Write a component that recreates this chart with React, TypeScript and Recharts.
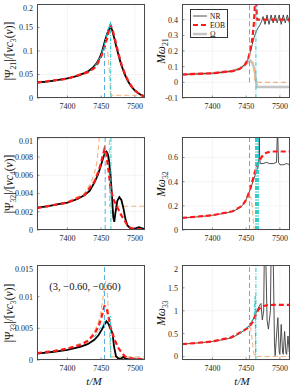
import React from 'react'
import { LineChart, Line, XAxis, YAxis, CartesianGrid, ReferenceLine } from 'recharts'

type Pt = [number, number]

// shared time axis
const T_DOMAIN: [number, number] = [7355, 7515]
const T_TICKS = [7400, 7450, 7500]
const T_BLUE = 7455
const T_CYAN = 7464.5

// (2,1) amplitude
const AMP21_NR: Pt[] = [[7355, 0.033], [7370, 0.035], [7385, 0.038], [7400, 0.042], [7415, 0.047], [7425, 0.053], [7432, 0.058], [7438, 0.065], [7443, 0.073], [7447, 0.083], [7451, 0.097], [7455, 0.118], [7458, 0.133], [7461, 0.145], [7464, 0.15], [7466, 0.146], [7469, 0.13], [7472, 0.112], [7476, 0.09], [7480, 0.07], [7485, 0.05], [7490, 0.035], [7495, 0.024], [7500, 0.016], [7505, 0.01], [7510, 0.006], [7515, 0.003]]
const AMP21_EOB: Pt[] = [[7355, 0.033], [7400, 0.041], [7430, 0.055], [7440, 0.064], [7445, 0.074], [7450, 0.088], [7455, 0.108], [7458, 0.123], [7461, 0.14], [7464, 0.155], [7467, 0.145], [7470, 0.128], [7473, 0.11], [7477, 0.088], [7481, 0.068], [7486, 0.049], [7491, 0.034], [7496, 0.023], [7501, 0.015], [7506, 0.009], [7511, 0.005], [7515, 0.003]]
const AMP21_FIT: Pt[] = [[7355, 0.033], [7400, 0.04], [7430, 0.053], [7440, 0.062], [7447, 0.075], [7451, 0.09], [7454, 0.102], [7456, 0.106], [7458, 0.104], [7460, 0.095], [7462, 0.06], [7464, 0.01], [7466, 0.006], [7515, 0.006]]
const AMP21_CYAN: Pt[] = [[7440, 0.066], [7450, 0.09], [7455, 0.115], [7460, 0.145], [7464, 0.162], [7464.3, 0.003], [7468, 0.003]]

// (2,1) frequency
const FREQ21_NR: Pt[] = [[7355, 0.05], [7380, 0.054], [7400, 0.058], [7420, 0.066], [7430, 0.073], [7438, 0.083], [7444, 0.097], [7449, 0.12], [7453, 0.15], [7456, 0.19], [7459, 0.24], [7462, 0.29], [7465, 0.325], [7468, 0.35], [7471, 0.37], [7473, 0.39], [7475, 0.42], [7478, 0.37], [7481, 0.43], [7484, 0.37], [7487, 0.43], [7490, 0.38], [7493, 0.43], [7496, 0.38], [7499, 0.43], [7502, 0.37], [7505, 0.43], [7508, 0.38], [7511, 0.43], [7514, 0.38], [7515, 0.4]]
const FREQ21_EOB: Pt[] = [[7355, 0.05], [7400, 0.058], [7430, 0.072], [7440, 0.085], [7448, 0.11], [7453, 0.15], [7456, 0.2], [7459, 0.27], [7461, 0.35], [7462.5, 0.45], [7463.5, 0.56], [7464.5, 0.56], [7465.5, 0.45], [7466.5, 0.4], [7515, 0.4]]
const FREQ21_OMEGA: Pt[] = [[7355, 0.05], [7400, 0.058], [7430, 0.072], [7440, 0.085], [7448, 0.11], [7453, 0.135], [7456, 0.14], [7459, 0.125], [7462, 0.09], [7464, 0.03], [7466, -0.03], [7515, -0.03]]
const FREQ21_FIT: Pt[] = [[7355, 0.05], [7400, 0.058], [7430, 0.072], [7440, 0.085], [7448, 0.108], [7453, 0.125], [7457, 0.135], [7460, 0.13], [7462, 0.1], [7463, 0.02], [7464, 0], [7515, 0]]

// (3,2) amplitude
const AMP32_NR: Pt[] = [[7355, 0.00245], [7370, 0.0026], [7385, 0.0028], [7400, 0.003], [7415, 0.0034], [7425, 0.0038], [7433, 0.0043], [7440, 0.0052], [7445, 0.006], [7449, 0.0069], [7453, 0.0079], [7456, 0.0085], [7458, 0.0086], [7460, 0.0083], [7462, 0.0074], [7464, 0.006], [7466, 0.0038], [7468, 0.0014], [7469.5, 0.0009], [7471, 0.0018], [7474, 0.0032], [7477, 0.0036], [7480, 0.0033], [7483, 0.0024], [7486, 0.0012], [7489, 0.0005], [7493, 0.0002], [7497, 0.0001], [7502, 0.0002], [7506, 0.0003], [7510, 0.0002], [7515, 0.0001]]
const AMP32_EOB: Pt[] = [[7355, 0.0024], [7400, 0.003], [7425, 0.0038], [7440, 0.0053], [7447, 0.0066], [7452, 0.008], [7455, 0.0089], [7458, 0.0082], [7461, 0.0065], [7464, 0.0045], [7468, 0.0034], [7472, 0.0028], [7476, 0.0022], [7480, 0.0016], [7485, 0.001], [7490, 0.0004], [7495, 0.0002], [7505, 0.0001], [7515, 0.0001]]
const AMP32_FIT: Pt[] = [[7355, 0.0024], [7400, 0.0031], [7425, 0.004], [7435, 0.0052], [7440, 0.0062], [7444, 0.0075], [7447, 0.0099], [7450, 0.0115], [7456, 0.013], [7462, 0.013], [7462.5, 0.0026], [7515, 0.0026]]

// (3,2) frequency
const FREQ32_NR: Pt[] = [[7355, 0.1], [7380, 0.11], [7400, 0.122], [7420, 0.14], [7430, 0.155], [7438, 0.175], [7444, 0.2], [7449, 0.24], [7453, 0.29], [7457, 0.35], [7460, 0.4], [7463, 0.45], [7466, 0.5], [7468, 0.53], [7469, 0.6], [7469.5, 0.85], [7470, 0.6], [7471, 0.55], [7475, 0.55], [7480, 0.56], [7485, 0.55], [7490, 0.55], [7495, 0.56], [7496.5, 0.85], [7498, 0.56], [7500, 0.54], [7505, 0.54], [7510, 0.55], [7515, 0.54]]
const FREQ32_EOB: Pt[] = [[7355, 0.1], [7400, 0.122], [7430, 0.155], [7444, 0.2], [7450, 0.25], [7455, 0.32], [7460, 0.42], [7463, 0.48], [7466, 0.53], [7470, 0.58], [7475, 0.62], [7480, 0.64], [7487, 0.65], [7515, 0.65]]
const FREQ32_FIT: Pt[] = [[7355, 0.1], [7400, 0.122], [7430, 0.155], [7444, 0.2], [7450, 0.24], [7454, 0.27], [7457, 0.27], [7459, 0.2], [7461, 0.05], [7462, 0], [7515, 0]]

// (3,3) amplitude
const AMP33_NR: Pt[] = [[7355, 0.001], [7380, 0.0013], [7400, 0.0016], [7420, 0.0021], [7430, 0.0025], [7440, 0.0032], [7446, 0.0039], [7451, 0.0048], [7455, 0.0056], [7458, 0.0061], [7461, 0.0057], [7464, 0.0049], [7467, 0.0042], [7469, 0.0022], [7472, 0.0006], [7476, 0.0002], [7480, 0.0002], [7483, 0.0005], [7486, 0.0002], [7492, 0.0001], [7500, 0.0001], [7515, 0.00005]]
const AMP33_EOB: Pt[] = [[7355, 0.0011], [7380, 0.0014], [7400, 0.0018], [7420, 0.0024], [7430, 0.003], [7440, 0.0041], [7446, 0.0053], [7450, 0.0065], [7453, 0.0078], [7455, 0.0085], [7458, 0.0082], [7461, 0.0068], [7464, 0.0052], [7467, 0.0041], [7470, 0.0032], [7475, 0.002], [7480, 0.0012], [7485, 0.0006], [7490, 0.0003], [7500, 0.0002], [7515, 0.0001]]
const AMP33_FIT: Pt[] = [[7355, 0.0011], [7400, 0.0018], [7430, 0.0031], [7440, 0.0045], [7446, 0.006], [7450, 0.0078], [7453, 0.01], [7455, 0.0115], [7457, 0.0125], [7459, 0.011], [7461, 0.007], [7463, 0.003], [7465, 0.0005], [7515, 0.0005]]
const AMP33_CYAN: Pt[] = [[7440, 0.0036], [7450, 0.0052], [7456, 0.0062], [7461, 0.0066], [7464, 0.0069], [7464.2, 0]]

// (3,3) frequency
const FREQ33_NR: Pt[] = [[7355, 0.27], [7380, 0.3], [7400, 0.33], [7420, 0.38], [7430, 0.42], [7440, 0.5], [7447, 0.57], [7452, 0.63], [7456, 0.7], [7460, 0.8], [7464, 0.93], [7467, 1.03], [7470, 1.12], [7472, 1.16], [7474, 0.8], [7476, 1.0], [7477, 2.3], [7479, 2.3], [7481, 0.8], [7483, 0.6], [7486, 1.0], [7487, 2.3], [7490, 2.3], [7492, 0.3], [7493, 0.02], [7495, 0.45], [7497, 0.85], [7499, 0.1], [7500, 0.05], [7502, 0.7], [7504, 0.1], [7505, 0.05], [7507, 0.55], [7509, 0.08], [7510, 0.05], [7512, 0.45], [7514, 0.1], [7515, 0.3]]
const FREQ33_EOB: Pt[] = [[7355, 0.27], [7400, 0.33], [7428, 0.42], [7443, 0.54], [7452, 0.62], [7456, 0.68], [7460, 0.76], [7463, 0.87], [7466, 0.97], [7469, 1.04], [7473, 1.09], [7480, 1.12], [7490, 1.13], [7515, 1.13]]
const FREQ33_FIT: Pt[] = [[7355, 0.27], [7400, 0.33], [7430, 0.42], [7445, 0.54], [7452, 0.63], [7455, 0.66], [7457, 0.6], [7459, 0.35], [7461, 0.1], [7463, 0], [7515, 0]]
const FREQ33_CYAN: Pt[] = [[7440, 0.5], [7450, 0.62], [7456, 0.71], [7460, 0.82], [7462, 0.92], [7463.5, 1.32], [7464, 0]]

// y ticks
const AMP21_TICKS = [0, 0.05, 0.1, 0.15, 0.2]
const FREQ21_TICKS = [-0.1, 0, 0.1, 0.2, 0.3, 0.4]
const AMP32_TICKS = [0, 0.002, 0.004, 0.006, 0.008, 0.01]
const FREQ32_TICKS = [0, 0.2, 0.4, 0.6]
const AMP33_TICKS = [0, 0.005, 0.01, 0.015]
const FREQ33_TICKS = [0, 0.5, 1, 1.5, 2]

const CYAN_CLUSTER = [7464, 7465.5, 7467, 7468.5]

const SERIF = "'Liberation Serif', 'DejaVu Serif', serif"
const C_BLUE = '#5aaee0'
const C_CYAN = '#22c7c9'
const C_ORANGE = '#f5b27c'
const C_RED = '#ff1a1a'

const STYLES = {
  nrAmp: { stroke: '#000', width: 1.8 },
  nrFreq: { stroke: '#3a3a3a', width: 0.9 },
  eob: { stroke: C_RED, width: 2.2, dash: '5 3' },
  omega: { stroke: '#c4c4c4', width: 2.4 },
  fit: { stroke: C_ORANGE, width: 1.1, dash: '5 3' },
  cyan: { stroke: C_CYAN, width: 1, dash: '4 1.5 1 1.5' },
}

type StyleKey = keyof typeof STYLES
interface Series { pts: Pt[]; style: StyleKey }
interface VLine { t: number; y0?: number; y1?: number; color: string; dash: string }

const PLOT_W = 108
const AXIS_W = 30
const AXIS_H = 16
const COLS = [37, 182]
const ROWS = [{ top: 4, h: 94 }, { top: 137, h: 93 }, { top: 265, h: 95 }]

function rows(pts: Pt[]) {
  return pts.map(([t, v]) => ({ t, v }))
}

function Panel(props: {
  col: number
  row: number
  domain: [number, number]
  ticks: number[]
  series: Series[]
  vlines: VLine[]
  label: React.ReactNode
  labelX: number
}) {
  const { col, row, domain, ticks, series, vlines, label, labelX } = props
  const px = COLS[col]
  const { top, h } = ROWS[row]
  const tickStyle = { fontSize: 8, fill: '#262626', fontFamily: SERIF }
  return (
    <>
      <div style={{ position: 'absolute', left: px - AXIS_W, top }}>
        <LineChart width={PLOT_W + AXIS_W} height={h + AXIS_H} margin={{ top: 0, right: 0, bottom: 0, left: 0 }}>
          <CartesianGrid stroke="#ececec" strokeWidth={0.6} />
          <XAxis dataKey="t" type="number" domain={T_DOMAIN} ticks={T_TICKS} allowDataOverflow
            height={AXIS_H} tickLine={{ stroke: '#444', strokeWidth: 0.6 }} axisLine={false} tickSize={-2.5} tickMargin={7.5} tick={tickStyle} />
          <YAxis type="number" domain={domain} ticks={ticks} allowDataOverflow width={AXIS_W}
            tickLine={{ stroke: '#444', strokeWidth: 0.6 }} axisLine={false} tickSize={-2.5} tickMargin={6.5} tick={tickStyle}
            tickFormatter={(v: number) => String(v)} />
          {series.map((s, i) => {
            const st = STYLES[s.style] as { stroke: string; width: number; dash?: string }
            return (
              <Line key={i} data={rows(s.pts)} dataKey="v" type="linear" dot={false} activeDot={false}
                stroke={st.stroke} strokeWidth={st.width} strokeDasharray={st.dash}
                isAnimationActive={false} />
            )
          })}
          {vlines.map((v, i) =>
            v.y0 !== undefined ? (
              <ReferenceLine key={'v' + i} segment={[{ x: v.t, y: v.y0 }, { x: v.t, y: v.y1 }]}
                stroke={v.color} strokeWidth={1} strokeDasharray={v.dash} ifOverflow="hidden" />
            ) : (
              <ReferenceLine key={'v' + i} x={v.t} stroke={v.color} strokeWidth={1} strokeDasharray={v.dash} />
            )
          )}
        </LineChart>
      </div>
      <div style={{ position: 'absolute', left: px, top, width: PLOT_W, height: h, border: '0.8px solid #4a4a4a', boxSizing: 'border-box' }} />
      <div style={{
        position: 'absolute', left: labelX, top: top + h / 2, transform: 'translate(-50%, -50%) rotate(-90deg)',
        whiteSpace: 'nowrap', fontFamily: SERIF, fontSize: 11.5, color: '#111', lineHeight: 1,
      }}>{label}</div>
    </>
  )
}

const sub = (s: string) => <sub style={{ fontSize: '0.68em', verticalAlign: '-0.3em' }}>{s}</sub>

const ampLabel = (lm: string, c: string) => (
  <span>|Ψ{sub(lm)}|/[<i>ν</i><i>c</i>{sub(c)}(<i>ν</i>)]</span>
)
const freqLabel = (lm: string) => (
  <span><i>Mω</i>{sub(lm)}</span>
)

const blueFull = (t: number): VLine => ({ t, color: C_BLUE, dash: '5 3' })
const cyanFull = (t: number): VLine => ({ t, color: C_CYAN, dash: '4 1.5 1 1.5' })

function Legend() {
  const items: { name: string; style: StyleKey }[] = [
    { name: 'NR', style: 'nrFreq' },
    { name: 'EOB', style: 'eob' },
    { name: 'Ω', style: 'omega' },
  ]
  return (
    <div style={{
      position: 'absolute', left: 190, top: 9, width: 38, height: 29, border: '0.8px solid #333',
      background: '#fff', boxSizing: 'border-box', fontFamily: SERIF, fontSize: 7.5, color: '#111',
    }}>
      {items.map((it, i) => {
        const st = STYLES[it.style] as { stroke: string; width: number; dash?: string }
        return (
          <div key={it.name} style={{ position: 'absolute', left: 2, top: 2 + i * 9, height: 8, display: 'flex', alignItems: 'center' }}>
            <svg width={14} height={8}>
              <line x1={0} x2={14} y1={4} y2={4} stroke={st.stroke} strokeWidth={st.width} strokeDasharray={st.dash} />
            </svg>
            <span style={{ marginLeft: 3 }}>{it.name}</span>
          </div>
        )
      })}
    </div>
  )
}

export default function App() {
  return (
    <div style={{ position: 'absolute', left: 0, top: 0, width: 291, height: 387, background: '#fff' }}>
      <Panel col={0} row={0} domain={[0, 0.2]} ticks={AMP21_TICKS} labelX={11} label={ampLabel('21', '3')}
        series={[{ pts: AMP21_FIT, style: 'fit' }, { pts: AMP21_NR, style: 'nrAmp' }, { pts: AMP21_EOB, style: 'eob' }, { pts: AMP21_CYAN, style: 'cyan' }]}
        vlines={[{ t: T_BLUE, y0: 0, y1: 0.108, color: C_BLUE, dash: '5 3' }]} />
      <Panel col={1} row={0} domain={[-0.1, 0.5]} ticks={FREQ21_TICKS} labelX={163} label={freqLabel('21')}
        series={[{ pts: FREQ21_OMEGA, style: 'omega' }, { pts: FREQ21_FIT, style: 'fit' }, { pts: FREQ21_NR, style: 'nrFreq' }, { pts: FREQ21_EOB, style: 'eob' }]}
        vlines={[{ t: T_BLUE, y0: 0, y1: 0.5, color: C_BLUE, dash: '5 3' }, cyanFull(T_CYAN)]} />
      <Panel col={0} row={1} domain={[0, 0.0102]} ticks={AMP32_TICKS} labelX={11} label={ampLabel('32', '4')}
        series={[{ pts: AMP32_FIT, style: 'fit' }, { pts: AMP32_NR, style: 'nrAmp' }, { pts: AMP32_EOB, style: 'eob' }]}
        vlines={[blueFull(T_BLUE + 1), cyanFull(T_CYAN)]} />
      <Panel col={1} row={1} domain={[0, 0.77]} ticks={FREQ32_TICKS} labelX={163} label={freqLabel('32')}
        series={[{ pts: FREQ32_FIT, style: 'fit' }, { pts: FREQ32_NR, style: 'nrFreq' }, { pts: FREQ32_EOB, style: 'eob' }]}
        vlines={[blueFull(T_BLUE), ...CYAN_CLUSTER.map(cyanFull)]} />
      <Panel col={0} row={2} domain={[0, 0.015]} ticks={AMP33_TICKS} labelX={11} label={ampLabel('33', '3')}
        series={[{ pts: AMP33_FIT, style: 'fit' }, { pts: AMP33_NR, style: 'nrAmp' }, { pts: AMP33_EOB, style: 'eob' }, { pts: AMP33_CYAN, style: 'cyan' }]}
        vlines={[blueFull(T_BLUE)]} />
      <Panel col={1} row={2} domain={[-0.075, 2]} ticks={FREQ33_TICKS} labelX={163} label={freqLabel('33')}
        series={[{ pts: FREQ33_FIT, style: 'fit' }, { pts: FREQ33_NR, style: 'nrFreq' }, { pts: FREQ33_EOB, style: 'eob' }, { pts: FREQ33_CYAN, style: 'cyan' }]}
        vlines={[blueFull(T_BLUE), cyanFull(T_CYAN)]} />
      <Legend />
      <div style={{ position: 'absolute', left: 85, top: 286, transform: 'translate(-50%, -50%)', fontFamily: SERIF, fontSize: 10.5, whiteSpace: 'nowrap', color: '#111' }}>
        (3, −0.60, −0.60)
      </div>
      <div style={{ position: 'absolute', left: 94, top: 381, transform: 'translate(-50%, -50%)', fontFamily: SERIF, fontSize: 11, fontStyle: 'italic', color: '#111' }}>
        t/M
      </div>
      <div style={{ position: 'absolute', left: 242, top: 381, transform: 'translate(-50%, -50%)', fontFamily: SERIF, fontSize: 11, fontStyle: 'italic', color: '#111' }}>
        t/M
      </div>
    </div>
  )
}
